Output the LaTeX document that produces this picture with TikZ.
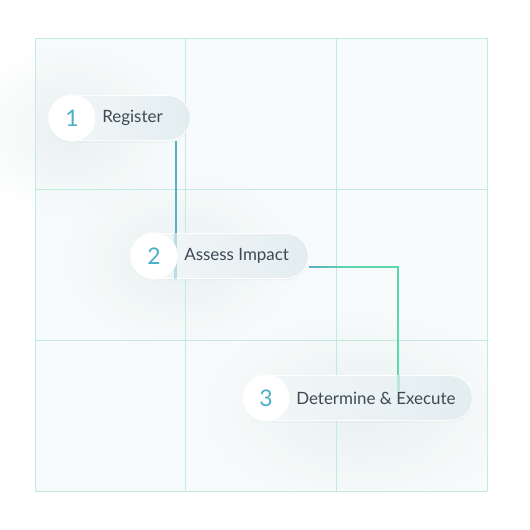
\documentclass[tikz,border=0pt]{standalone}
\usepackage{fontspec}
\setmainfont{Lato}
\usetikzlibrary{positioning,shapes.misc,shadows,fadings,backgrounds}
\definecolor{cellline}{HTML}{C2EBDF}
\definecolor{cellfill}{HTML}{F8FBFB}
\definecolor{numblue}{HTML}{4AAFC8}
\definecolor{labelgray}{HTML}{3E4953}
\definecolor{pillleft}{HTML}{F3F8F9}
\definecolor{pillright}{HTML}{E3EDF0}
\definecolor{linkblue}{HTML}{5AAEC8}
\definecolor{linkgreen}{HTML}{5DD8A9}
\definecolor{glowtint}{HTML}{9CC2BC}
\tikzfading[name=softglow,inner color=transparent!84,outer color=transparent!100]
\tikzset{
  cell/.style={draw=cellline,line width=0.9pt},
  glow/.style={fill=glowtint,path fading=softglow},
  pill/.style={rounded rectangle,minimum height=45bp,inner sep=0pt,left color=pillleft,right color=pillright,
    draw=white,line width=0.8pt,
    drop shadow={shadow xshift=0bp,shadow yshift=-2bp,opacity=0.10,fill=glowtint}},
  numdot/.style={circle,minimum size=47bp,inner sep=0pt,fill=white,draw=white!92!glowtint,line width=0.6pt,
    font=\fontsize{23}{25}\selectfont,text=numblue},
  steplabel/.style={font=\fontsize{17}{20}\selectfont,text=labelgray,anchor=west},
  link/.style={line width=2.3pt},
  seethrough/.style={line width=3pt,opacity=0.35}
}
\begin{document}
\begin{tikzpicture}[x=1bp,y=1bp]
\path[use as bounding box] (0,0) rectangle (530,530);
% steps
\foreach \i/\x/\y/\w in {1/72/412/142, 2/154/274/178, 3/266/132/230}
{
\coordinate (c\i) at (\x,\y);
\node[pill,minimum width=\w bp,anchor=west] (p\i) at ([xshift=-24bp]c\i) {};
}
% connector seen through the pills
\draw[seethrough,linkblue] ([xshift=-15bp]p1.east |- p2.north) -- ([xshift=-15bp]p1.east |- p2.south);
\draw[seethrough,linkgreen] ([xshift=156bp]p3.west |- p3.north) -- ++(0,-16);
\foreach \i/\txt in {1/{Register},2/{Assess Impact},3/{Determine \& Execute}}
{
\node[numdot] (n\i) at (c\i) {\i};
\node[steplabel,right=3bp of n\i] (t\i) {\txt};
}
\begin{scope}[on background layer]
% board
\fill[cellfill] (35,39) rectangle (487,492);
\fill[glow] (70,400) ellipse (110 and 90);
\fill[glow] (180,270) ellipse (120 and 90);
\fill[glow] (360,120) ellipse (160 and 100);
\foreach \k in {35,185.7,336.3,487}
  \draw[cell] (\k,39) -- (\k,492);
\foreach \k in {39,190,341,492}
  \draw[cell] (35,\k) -- (487,\k);
% connectors
\draw[link,linkblue] ([xshift=-15bp]p1.east |- p1.south) -- ([xshift=-15bp]p1.east |- p2.north);
\draw[link,linkgreen] ([yshift=-11bp]p2.east) -| ([xshift=156bp]p3.west |- p3.north);
\fill[linkblue,path fading=east] ([yshift=-9.85bp]p2.east) rectangle ++(40,-2.3);
\end{scope}
\end{tikzpicture}
\end{document}
